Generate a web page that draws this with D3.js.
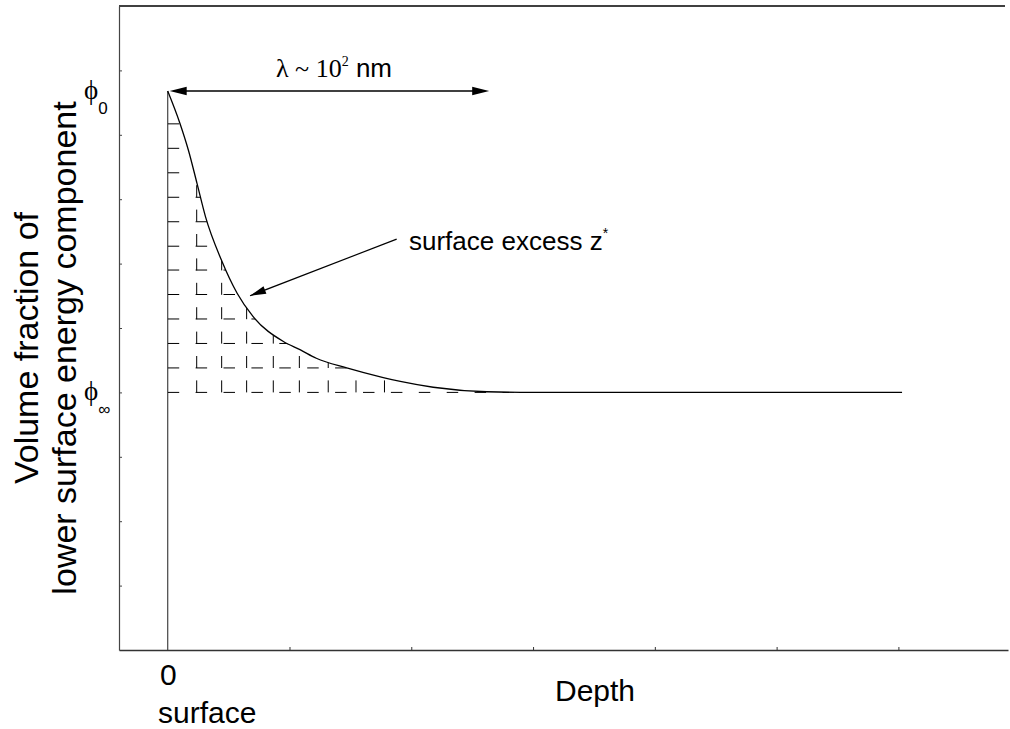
<!DOCTYPE html>
<html>
<head>
<meta charset="utf-8">
<script src="https://cdn.jsdelivr.net/npm/d3@7"></script>
<style>
  html, body { margin: 0; padding: 0; background: #fff; }
  svg { display: block; }
</style>
</head>
<body>
<svg id="chart" width="1010" height="729"></svg>
<script>
// Concentration profile of the lower-surface-energy component versus depth
const depth    = [0, 0.10, 0.17, 0.24, 0.31, 0.44, 0.57, 0.70, 0.95, 1.09, 1.22, 1.47, 1.77, 1.91, 2.18, 2.62, 3.00, 6.03];
const fraction = [8.68, 8.18, 7.76, 7.25, 6.73, 6.06, 5.54, 5.18, 4.79, 4.66, 4.53, 4.38, 4.23, 4.17, 4.08, 4.01, 4.00, 4.00];

const phi0 = 8.68;     // surface volume fraction
const phiInf = 4.00;   // bulk volume fraction

// Axis ticks (unlabelled)
const depthTicks = [1, 2, 3, 4, 5, 6];
const fractionTicks = [1, 2, 3, 4, 5, 6, 7, 8, 9];

// Hatching of the surface-excess area
const hatchLevels = [4.00, 4.38, 4.76, 5.14, 5.52, 5.90, 6.27, 6.65, 7.03, 7.41, 7.79, 8.17];
const hatchColumns = [0.238, 0.443, 0.648, 0.867, 1.081, 1.318, 1.546, 1.780];

// Annotations
const lambdaSpan = [0, 2.64];
const excessArrowTail = [1.88, 6.38];
const excessArrowTip = [0.676, 5.50];

const svg = d3.select("#chart");
const x = d3.scaleLinear().domain([-0.4, 6.9]).range([119, 1008]);
const y = d3.scaleLinear().domain([0, 10]).range([650, 6]);

const sans = "'Liberation Sans', Arial, sans-serif";
const serif = "'Liberation Serif', 'DejaVu Serif', 'Times New Roman', serif";

// Frame: top edge
svg.append("line")
  .attr("x1", x(-0.4)).attr("x2", 1005)
  .attr("y1", y(10)).attr("y2", y(10))
  .attr("stroke", "#000").attr("stroke-width", 1.4);

// Left axis with small inward ticks
svg.append("g")
  .attr("transform", `translate(${x(-0.4)},0)`)
  .call(d3.axisLeft(y).tickValues(fractionTicks).tickSize(-3).tickSizeOuter(0).tickFormat(""))
  .call(g => g.select(".domain").attr("stroke", "#444").attr("stroke-width", 1.2))
  .call(g => g.selectAll(".tick line").attr("stroke", "#444"));

// Bottom axis with small inward ticks
svg.append("g")
  .attr("transform", `translate(0,${y(0)})`)
  .call(d3.axisBottom(x).tickValues(depthTicks).tickSize(-3).tickSizeOuter(0).tickFormat(""))
  .call(g => g.select(".domain").attr("stroke", "#333").attr("stroke-width", 1.4))
  .call(g => g.selectAll(".tick line").attr("stroke", "#333"));

// Surface (depth = 0) line
svg.append("line")
  .attr("x1", x(0)).attr("x2", x(0))
  .attr("y1", y(phi0)).attr("y2", y(0))
  .attr("stroke", "#444").attr("stroke-width", 1.2);

const pts = depth.map((d, i) => [d, fraction[i]]);

// Clip region: area between the profile and the bulk level
const areaGen = d3.area()
  .x(d => x(d[0]))
  .y0(y(phiInf) + 1.5)
  .y1(d => y(d[1]))
  .curve(d3.curveMonotoneX);

svg.append("clipPath").attr("id", "excess-clip")
  .append("path").attr("d", areaGen(pts.filter(d => d[0] <= 3.0)));

const hatch = svg.append("g").attr("clip-path", "url(#excess-clip)")
  .attr("stroke", "#000").attr("stroke-width", 1).attr("fill", "none");

hatch.selectAll("line.level").data(hatchLevels).join("line")
  .attr("class", "level")
  .attr("x1", x(0)).attr("x2", x(3.0))
  .attr("y1", d => y(d)).attr("y2", d => y(d))
  .attr("stroke-dasharray", "11.5,16.4");

hatch.selectAll("line.column").data(hatchColumns).join("line")
  .attr("class", "column")
  .attr("x1", d => x(d)).attr("x2", d => x(d))
  .attr("y1", y(phiInf)).attr("y2", y(phi0))
  .attr("stroke-dasharray", "12,12.4");

// Profile curve
const lineGen = d3.line()
  .x(d => x(d[0]))
  .y(d => y(d[1]))
  .curve(d3.curveMonotoneX);

svg.append("path")
  .attr("d", lineGen(pts))
  .attr("fill", "none").attr("stroke", "#000").attr("stroke-width", 1.3);

// Filled arrow head with its tip at (px, py), pointing away from (fromX, fromY)
function arrowHead(px, py, fromX, fromY, len, half) {
  const a = Math.atan2(py - fromY, px - fromX);
  const bx = px - len * Math.cos(a), by = py - len * Math.sin(a);
  const nx = -Math.sin(a) * half, ny = Math.cos(a) * half;
  return `M${px},${py}L${bx + nx},${by + ny}L${bx - nx},${by - ny}Z`;
}

// Decay length double arrow
const ly = y(phi0);
const lx1 = x(lambdaSpan[0]) + 2, lx2 = x(lambdaSpan[1]);
svg.append("line").attr("x1", lx1 + 10).attr("x2", lx2 - 10).attr("y1", ly).attr("y2", ly)
  .attr("stroke", "#000").attr("stroke-width", 1.3);
svg.append("path").attr("d", arrowHead(lx1, ly, lx2, ly, 17, 4.2)).attr("fill", "#000");
svg.append("path").attr("d", arrowHead(lx2, ly, lx1, ly, 17, 4.2)).attr("fill", "#000");

const lambdaText = svg.append("text")
  .attr("x", 276).attr("y", 77)
  .attr("font-size", 26).attr("fill", "#000");
lambdaText.append("tspan").attr("font-family", serif).text("λ ~ 10");
lambdaText.append("tspan").attr("font-family", serif).attr("font-size", 14).attr("dy", -11).text("2");
lambdaText.append("tspan").attr("font-family", sans).attr("dy", 11).text(" nm");

// Surface excess pointer
const tx = x(excessArrowTail[0]), ty = y(excessArrowTail[1]);
const hx = x(excessArrowTip[0]), hy = y(excessArrowTip[1]);
svg.append("line").attr("x1", tx).attr("y1", ty).attr("x2", hx).attr("y2", hy)
  .attr("stroke", "#000").attr("stroke-width", 1.2);
svg.append("path").attr("d", arrowHead(hx, hy, tx, ty, 16, 4)).attr("fill", "#000");

const excessText = svg.append("text")
  .attr("x", 409).attr("y", 250)
  .attr("font-family", sans).attr("font-size", 26).attr("fill", "#000");
excessText.append("tspan").text("surface excess z");
excessText.append("tspan").attr("font-size", 14).attr("dy", -12).text("*");

// Level labels next to the left axis
function phiLabel(level, sub) {
  const t = svg.append("text").attr("x", 84).attr("y", y(level) + 8).attr("fill", "#000");
  t.append("tspan").attr("font-family", serif).attr("font-size", 27).text("ϕ");
  t.append("tspan").attr("font-family", sans).attr("font-size", 17).attr("dy", 15).text(sub);
}
phiLabel(phi0, "0");
phiLabel(phiInf, "∞");

// Axis titles
svg.append("text").attr("x", 160).attr("y", 685)
  .attr("font-family", sans).attr("font-size", 30).text("0");
svg.append("text").attr("x", 158).attr("y", 723)
  .attr("font-family", sans).attr("font-size", 30).text("surface");
svg.append("text").attr("x", 555).attr("y", 701)
  .attr("font-family", sans).attr("font-size", 30).text("Depth");

const yTitle = svg.append("text")
  .attr("transform", "translate(0,348) rotate(-90)")
  .attr("text-anchor", "middle")
  .attr("font-family", sans).attr("font-size", 34).attr("fill", "#000");
yTitle.append("tspan").attr("x", 0).attr("y", 38).text("Volume fraction of");
yTitle.append("tspan").attr("x", 0).attr("y", 76).text("lower surface energy component");
</script>
</body>
</html>
